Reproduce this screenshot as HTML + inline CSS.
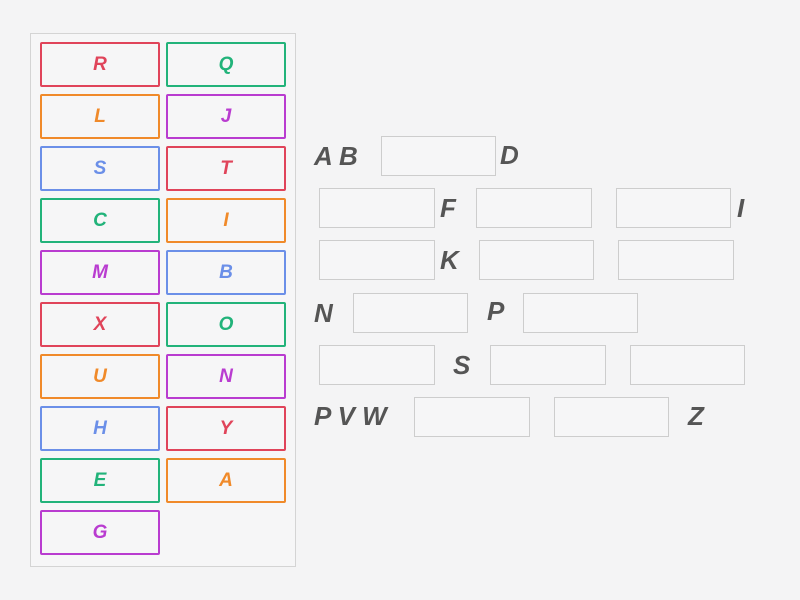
<!DOCTYPE html>
<html><head><meta charset="utf-8"><style>
body{margin:0;width:800px;height:600px;background:#f4f4f5;position:relative;overflow:hidden;font-family:"Liberation Sans",sans-serif}
.panel{position:absolute;left:30px;top:33px;width:264px;height:532px;border:1px solid #d4d4d4;background:#f6f6f7}
.t{position:absolute;width:116px;height:41px;border:2px solid;border-radius:2px;font-weight:bold;font-style:italic;font-size:19px;text-align:center;line-height:41px;background:#f6f6f7}
.b{position:absolute;height:38px;border:1px solid #cdcdcd;background:#f6f6f7}
.l{position:absolute;font-weight:bold;font-style:italic;font-size:26px;color:#555;line-height:30px}
</style></head><body>
<div class="panel"></div>
<div class="t" style="left:40px;top:42px;color:#e0445a;border-color:#e0445a">R</div>
<div class="t" style="left:40px;top:94px;color:#f08a2a;border-color:#f08a2a">L</div>
<div class="t" style="left:40px;top:146px;color:#6b8fe8;border-color:#6b8fe8">S</div>
<div class="t" style="left:40px;top:198px;color:#22b37a;border-color:#22b37a">C</div>
<div class="t" style="left:40px;top:250px;color:#b93cd0;border-color:#b93cd0">M</div>
<div class="t" style="left:40px;top:302px;color:#e0445a;border-color:#e0445a">X</div>
<div class="t" style="left:40px;top:354px;color:#f08a2a;border-color:#f08a2a">U</div>
<div class="t" style="left:40px;top:406px;color:#6b8fe8;border-color:#6b8fe8">H</div>
<div class="t" style="left:40px;top:458px;color:#22b37a;border-color:#22b37a">E</div>
<div class="t" style="left:40px;top:510px;color:#b93cd0;border-color:#b93cd0">G</div>
<div class="t" style="left:166px;top:42px;color:#22b37a;border-color:#22b37a">Q</div>
<div class="t" style="left:166px;top:94px;color:#b93cd0;border-color:#b93cd0">J</div>
<div class="t" style="left:166px;top:146px;color:#e0445a;border-color:#e0445a">T</div>
<div class="t" style="left:166px;top:198px;color:#f08a2a;border-color:#f08a2a">I</div>
<div class="t" style="left:166px;top:250px;color:#6b8fe8;border-color:#6b8fe8">B</div>
<div class="t" style="left:166px;top:302px;color:#22b37a;border-color:#22b37a">O</div>
<div class="t" style="left:166px;top:354px;color:#b93cd0;border-color:#b93cd0">N</div>
<div class="t" style="left:166px;top:406px;color:#e0445a;border-color:#e0445a">Y</div>
<div class="t" style="left:166px;top:458px;color:#f08a2a;border-color:#f08a2a">A</div>

<div class="l" style="left:314px;top:141px">A B</div>
<div class="b" style="left:381px;top:136px;width:113px"></div>
<div class="l" style="left:500px;top:140px">D</div>

<div class="b" style="left:319px;top:188px;width:114px"></div>
<div class="l" style="left:440px;top:193px">F</div>
<div class="b" style="left:476px;top:188px;width:114px"></div>
<div class="b" style="left:616px;top:188px;width:113px"></div>
<div class="l" style="left:737px;top:193px">I</div>

<div class="b" style="left:319px;top:240px;width:114px"></div>
<div class="l" style="left:440px;top:245px">K</div>
<div class="b" style="left:479px;top:240px;width:113px"></div>
<div class="b" style="left:618px;top:240px;width:114px"></div>

<div class="l" style="left:314px;top:298px">N</div>
<div class="b" style="left:353px;top:293px;width:113px"></div>
<div class="l" style="left:487px;top:296px">P</div>
<div class="b" style="left:523px;top:293px;width:113px"></div>

<div class="b" style="left:319px;top:345px;width:114px"></div>
<div class="l" style="left:453px;top:350px">S</div>
<div class="b" style="left:490px;top:345px;width:114px"></div>
<div class="b" style="left:630px;top:345px;width:113px"></div>

<div class="l" style="left:314px;top:401px">P V W</div>
<div class="b" style="left:414px;top:397px;width:114px"></div>
<div class="b" style="left:554px;top:397px;width:113px"></div>
<div class="l" style="left:688px;top:401px">Z</div>
</body></html>
